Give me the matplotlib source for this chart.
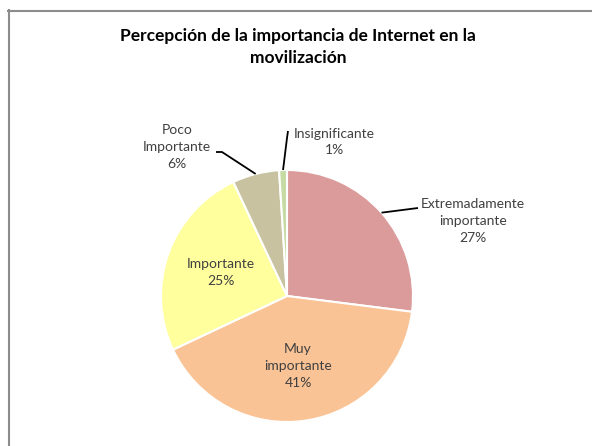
import numpy as np
import matplotlib
matplotlib.use("Agg")
import matplotlib.pyplot as plt

plt.rcParams['font.family'] = ['Lato', 'DejaVu Sans']

title = "Percepción de la importancia de Internet en la\nmovilización"
labels = ["Extremadamente\nimportante", "Muy\nimportante", "Importante",
          "Poco\nImportante", "Insignificante"]
values = [27, 41, 25, 6, 1]
colors = ["#DB9B9A", "#FAC395", "#FFFF9E", "#C8C2A0", "#C5DBA3"]

W, H = 592, 446
fig = plt.figure(figsize=(W / 100, H / 100), dpi=100)
ax = fig.add_axes([0, 0, 1, 1])
ax.set_xlim(0, W)
ax.set_ylim(0, H)
ax.set_aspect('equal')
ax.axis('off')

def Y(y):
    # pixel row (from top) -> axis y
    return H - y

cx, cy, r = 287, Y(296), 126

# chart frame (only top and left edge visible)
ax.plot([8, W], [Y(10.5), Y(10.5)], color="#8c8c8c", lw=1.5)
ax.plot([8.5, 8.5], [Y(10), 0], color="#8c8c8c", lw=1.5)

ax.text(W / 2 + 2, Y(47), title, ha='center', va='center', fontsize=12.5,
        fontweight='bold', color='black', linespacing=1.4)

wedges, _ = ax.pie(values, colors=colors, startangle=90, counterclock=False,
                   center=(cx, cy), radius=r,
                   wedgeprops=dict(edgecolor='white', linewidth=1.5))
ax.set_xlim(0, W)
ax.set_ylim(0, H)

tc = "#404040"
fs = 10
total = sum(values)

def mid_angle(w):
    return np.deg2rad((w.theta1 + w.theta2) / 2)

# inside labels
for i in (1, 2):
    a = mid_angle(wedges[i])
    d = 0.56 * r
    ax.text(cx + d * np.cos(a), cy + d * np.sin(a),
            f"{labels[i]}\n{values[i] / total:.0%}", ha='center', va='center',
            fontsize=fs, color=tc, linespacing=1.5)

# outside labels with leader lines
outside = {
    0: dict(text=(473, 221), knee=(418, 208), end=(418, 208)),
    3: dict(text=(177, 147), knee=(222, 152), end=(216, 152)),
    4: dict(text=(334, 142), knee=(287, 138), end=(288, 131)),
}
for i, o in outside.items():
    a = mid_angle(wedges[i])
    px, py = cx + r * np.cos(a), cy + r * np.sin(a)
    kx, ky = o['knee']
    ex, ey = o['end']
    ax.plot([px, kx, ex], [py, Y(ky), Y(ey)], color='black', lw=1.3,
            solid_capstyle='butt')
    tx, ty = o['text']
    ax.text(tx, Y(ty), f"{labels[i]}\n{values[i] / total:.0%}", ha='center',
            va='center', fontsize=fs, color=tc, linespacing=1.5)

fig.savefig("out.png", dpi=100)
